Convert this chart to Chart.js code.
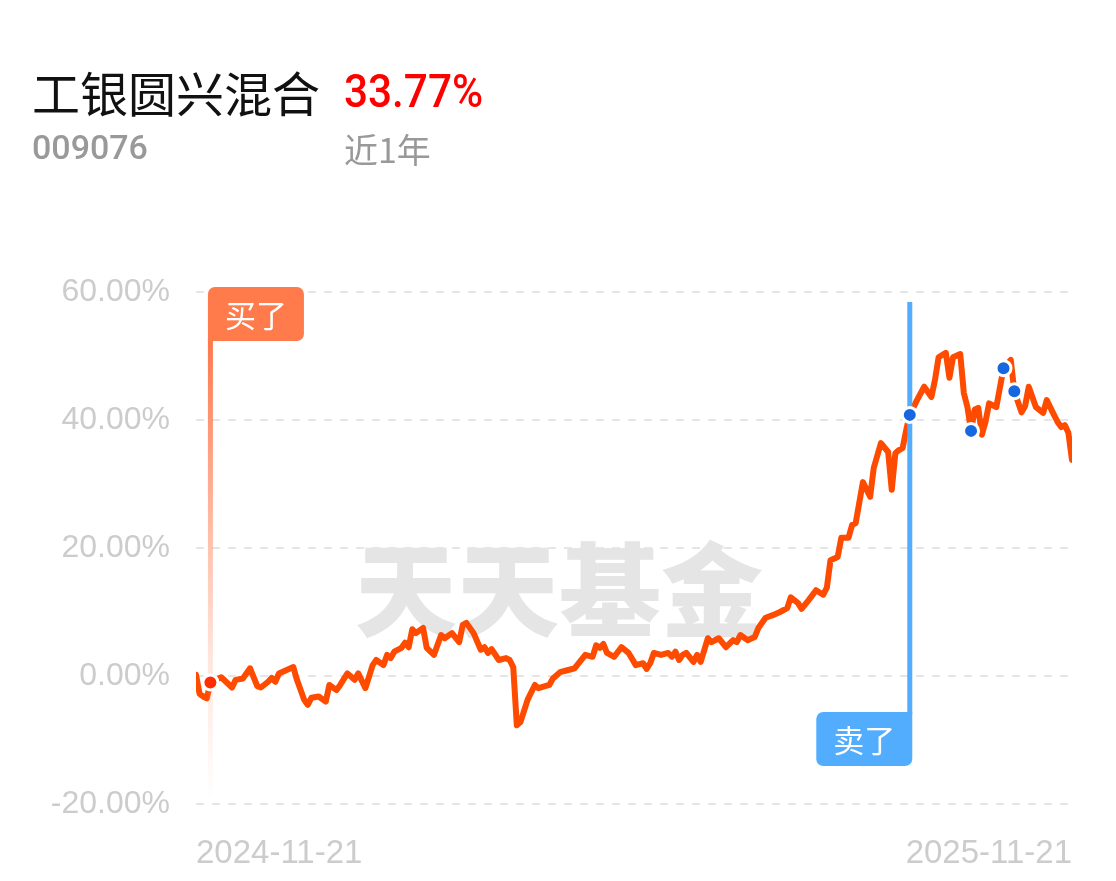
<!DOCTYPE html>
<html>
<head>
<meta charset="utf-8">
<script src="https://cdn.jsdelivr.net/npm/chart.js@4.4.0/dist/chart.umd.min.js"></script>
<style>
    body { margin: 0; background: #fff; width: 1116px; height: 881px; overflow: hidden; }
    #wrap { position: relative; width: 1116px; height: 881px; }
    #myChart { position: absolute; left: 0; top: 0; }
    .t { position: absolute; white-space: nowrap; line-height: 1; }
    #name { left: 32px; top: 56px; font: 400 48px "Noto Sans CJK SC"; color: #111; }
    #rate { left: 344px; top: 63px; font: 500 47px Roboto, "Noto Sans"; color: #ff0000; transform: scaleX(0.9); transform-origin: left top; }
    #code { left: 32px; top: 127px; font: 500 34px Roboto, "Noto Sans"; color: #999; }
    #range { left: 344px; top: 124px; font: 400 34px "Noto Sans CJK SC"; color: #999; }
</style>
</head>
<body>
<div id="wrap">
    <canvas id="myChart" width="1116" height="881"></canvas>
    <div class="t" id="name">工银圆兴混合</div>
    <div class="t" id="rate">33.77%</div>
    <div class="t" id="code">009076</div>
    <div class="t" id="range">近1年</div>
</div>
<script>
// trading day index since 2024-11-21 and cumulative return in %
let days = [0, 1, 2, 3, 4, 7, 10, 11, 13, 15, 17, 18, 20, 21, 22, 23, 25, 27, 28, 30, 31, 32, 34, 35, 36, 37, 39, 40, 42, 44,
    45, 47, 49, 50, 52, 53, 54, 55, 57, 58, 59, 60, 61, 63, 64, 66, 68, 69, 71, 73, 74, 75, 77, 79, 80, 81, 82, 84, 86, 87,
    88, 89, 90, 92, 94, 95, 98, 99, 101, 103, 105, 107, 108, 110, 111, 112, 113, 114, 116, 118, 120, 122, 124, 125, 126, 127, 129, 131, 132, 133,
    134, 135, 136, 138, 139, 140, 142, 143, 145, 147, 149, 150, 151, 153, 155, 156, 158, 160, 162, 164, 165, 167, 168, 170, 172, 174, 175, 176, 178, 179,
    181, 182, 183, 185, 187, 188, 190, 192, 193, 194, 195, 196, 197, 198, 200, 202, 204, 205, 206, 208, 209, 210, 212, 213, 214, 215, 216, 217, 218, 219,
    220, 222, 224, 226, 227, 229, 230, 231, 233, 235, 236, 238, 239, 240, 241, 242, 243];
let values = [0.2, -2.8, -3.2, -3.5, -1.0, -0.2, -1.8, -0.6, -0.4, 1.2, -1.6, -1.8, -0.9, -0.3, -0.9, 0.4, 0.9, 1.4, -0.6, -3.7, -4.5, -3.4, -3.2, -3.6, -4.0, -1.4, -2.2, -1.4, 0.4, -0.6,
    0.4, -1.9, 1.7, 2.5, 1.7, 3.3, 2.8, 3.8, 4.4, 5.2, 4.5, 7.3, 6.7, 7.5, 4.4, 3.3, 6.4, 5.9, 6.7, 5.3, 8.0, 8.3, 6.7, 4.1, 4.5, 3.6, 4.2, 2.5, 2.8, 2.5,
    1.4, -7.7, -7.2, -3.7, -1.4, -1.9, -1.4, -0.4, 0.6, 0.9, 1.2, 2.6, 3.3, 3.0, 4.8, 4.4, 5.0, 3.6, 3.0, 4.5, 3.6, 1.7, 2.0, 1.1, 2.0, 3.6, 3.3, 3.6, 3.0, 3.8,
    2.5, 3.3, 3.6, 2.2, 3.3, 2.2, 5.9, 5.3, 5.9, 4.5, 5.6, 5.3, 6.4, 5.6, 6.1, 7.5, 9.1, 9.5, 10.0, 10.6, 12.3, 11.4, 10.5, 11.9, 13.4, 12.7, 13.8, 18.1, 18.6, 21.6,
    21.6, 23.6, 23.9, 30.3, 28.0, 32.5, 36.4, 35.0, 29.1, 34.8, 35.3, 35.6, 38.4, 40.8, 43.1, 45.2, 43.6, 46.3, 49.8, 50.5, 46.6, 49.8, 50.3, 44.2, 42.0, 38.3, 41.6, 41.9, 37.7, 39.7,
    42.6, 42.0, 48.1, 49.4, 44.5, 41.2, 42.2, 45.2, 42.0, 41.1, 43.1, 40.8, 39.7, 38.9, 39.2, 38.0, 33.77];

let dateLabels = ['2024-11-21', '2025-11-21'];
let yTicks = [-20, 0, 20, 40, 60];

let buyDay = 4;
let buyValue = -1.0;
let sellDay = 198;
let dotDays = [198, 215, 224, 227];
let dotValues = [40.8, 38.3, 48.1, 44.5];

let lineData = [];
for (let i = 0; i < days.length; i++) {
    lineData.push({ x: days[i], y: values[i] });
}
let dotData = [{ x: buyDay, y: buyValue }];
let dotColors = ['#ff2d00'];
for (let i = 0; i < dotDays.length; i++) {
    dotData.push({ x: dotDays[i], y: dotValues[i] });
    dotColors.push('#1667e0');
}

// watermark behind the line, buy/sell flags between line and dots
let decorPlugin = {
    id: 'decor',
    beforeDatasetsDraw(chart) {
        let ctx = chart.ctx;
        ctx.save();
        ctx.fillStyle = '#e5e5e5';
        ctx.font = '800 102px "Noto Sans CJK SC"';
        ctx.textAlign = 'center';
        ctx.textBaseline = 'middle';
        ctx.fillText('天天基金', 559, 590);
        ctx.restore();
    },
    afterDatasetDraw(chart, args) {
        if (args.index !== 0) return;
        let ctx = chart.ctx;
        let x = chart.scales.x;
        let bx = x.getPixelForValue(buyDay);
        let sx = x.getPixelForValue(sellDay);
        ctx.save();

        // buy line fading out downwards
        let grad = ctx.createLinearGradient(0, 340, 0, 800);
        grad.addColorStop(0, 'rgba(255,120,75,1)');
        grad.addColorStop(0.45, 'rgba(255,120,75,0.45)');
        grad.addColorStop(0.7, 'rgba(255,120,75,0.18)');
        grad.addColorStop(1, 'rgba(255,120,75,0)');
        ctx.fillStyle = grad;
        ctx.fillRect(bx - 2.5, 338, 5, 462);

        ctx.fillStyle = '#ff7b4b';
        ctx.beginPath();
        ctx.roundRect(bx - 2.5, 287, 96, 54, [7, 7, 7, 0]);
        ctx.fill();
        ctx.fillStyle = '#fff';
        ctx.font = '400 31px "Noto Sans CJK SC"';
        ctx.textAlign = 'center';
        ctx.textBaseline = 'middle';
        ctx.fillText('买了', bx - 2.5 + 48, 315);

        // sell line
        ctx.fillStyle = '#52adff';
        ctx.fillRect(sx - 2.5, 302, 5, 412);
        ctx.beginPath();
        ctx.roundRect(sx + 2.5 - 96, 712, 96, 54, [7, 0, 7, 7]);
        ctx.fill();
        ctx.fillStyle = '#fff';
        ctx.fillText('卖了', sx + 2.5 - 48, 740);
        ctx.restore();
    }
};

let myChart = document.getElementById('myChart').getContext('2d');

let chart = new Chart(myChart, {
    type: 'line',
    data: {
        datasets: [
            {
                data: lineData,
                borderColor: '#ff4b00',
                borderWidth: 6,
                pointRadius: 0,
                tension: 0,
                borderJoinStyle: 'round',
                borderCapStyle: 'round',
                order: 1
            },
            {
                data: dotData,
                showLine: false,
                pointRadius: 7.5,
                pointBorderWidth: 3,
                pointBorderColor: '#fff',
                pointBackgroundColor: dotColors,
                order: 0
            }
        ]
    },
    options: {
        responsive: false,
        animation: false,
        devicePixelRatio: 1,
        layout: { padding: { top: 292, right: 44, left: 0, bottom: 0 } },
        plugins: {
            legend: { display: false },
            tooltip: { enabled: false }
        },
        scales: {
            x: {
                type: 'linear',
                min: 0,
                max: 243,
                grid: { display: false },
                border: { display: false },
                afterBuildTicks: function (scale) {
                    scale.ticks = [{ value: 0 }, { value: 243 }];
                },
                afterFit: function (scale) {
                    scale.height = 77;
                },
                ticks: {
                    align: 'inner',
                    padding: 22,
                    maxRotation: 0,
                    color: '#cccccc',
                    font: { family: '"Liberation Sans"', size: 33 },
                    callback: function (v) {
                        return v === 0 ? dateLabels[0] : dateLabels[1];
                    }
                }
            },
            y: {
                min: -20,
                max: 60,
                afterBuildTicks: function (scale) {
                    scale.ticks = yTicks.map(v => ({ value: v }));
                },
                afterFit: function (scale) {
                    scale.width = 196;
                },
                border: { display: false, dash: [8, 8] },
                grid: {
                    color: '#e6e6e6',
                    lineWidth: 2,
                    drawTicks: false
                },
                ticks: {
                    padding: 26,
                    color: '#cccccc',
                    font: { family: '"Liberation Sans"', size: 32 },
                    callback: function (v) {
                        return v.toFixed(2) + '%';
                    }
                }
            }
        }
    },
    plugins: [decorPlugin]
});
</script>
</body>
</html>
